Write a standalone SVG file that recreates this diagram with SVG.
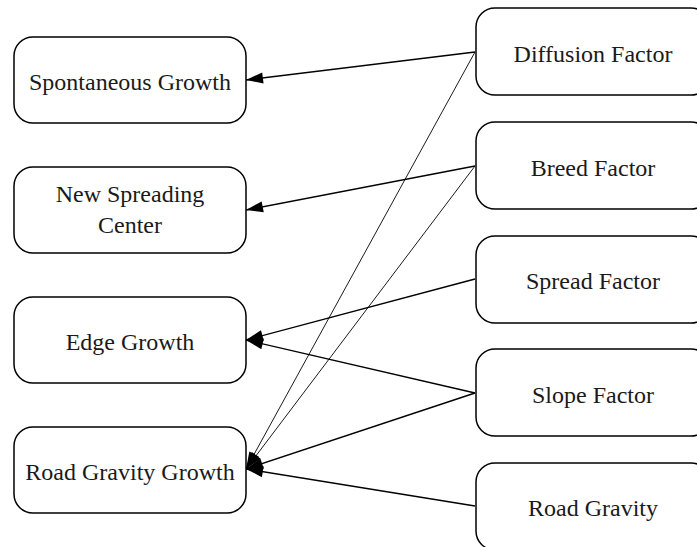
<svg xmlns="http://www.w3.org/2000/svg" width="697" height="547" viewBox="0 0 697 547">
<style>
.node rect{fill:#fff;stroke:#000;stroke-width:1.5}
.node text{font-family:"Liberation Serif","Times New Roman",serif;font-size:24px;fill:#1a1a1a;text-anchor:middle}
.edge{stroke:#000;stroke-width:1.4;fill:none}
.thin{stroke-width:0.9}
</style>
<defs>
<marker id="ah" markerUnits="userSpaceOnUse" markerWidth="18" markerHeight="12" refX="17" refY="5.5" orient="auto" overflow="visible">
<path d="M0,0 L17,5.5 L0,11 z" fill="#000"/>
</marker>
</defs>
<rect width="697" height="547" fill="#fff"/>
<g id="connectors">
<line class="edge" x1="475" y1="52" x2="246" y2="80" marker-end="url(#ah)"/>
<line class="edge thin" x1="475" y1="52" x2="246" y2="469" marker-end="url(#ah)"/>
<line class="edge" x1="475" y1="166" x2="246" y2="210" marker-end="url(#ah)"/>
<line class="edge thin" x1="475" y1="166" x2="246" y2="469" marker-end="url(#ah)"/>
<line class="edge" x1="475" y1="279" x2="246" y2="340" marker-end="url(#ah)"/>
<line class="edge" x1="475" y1="393" x2="246" y2="340" marker-end="url(#ah)"/>
<line class="edge" x1="475" y1="393" x2="246" y2="469" marker-end="url(#ah)"/>
<line class="edge" x1="475" y1="506" x2="246" y2="469" marker-end="url(#ah)"/>
</g>
<g id="spontaneous" class="node"><rect x="14" y="37" width="232" height="86" rx="19"/><text x="130" y="90">Spontaneous Growth</text></g>
<g id="newspreading" class="node"><rect x="14" y="167" width="232" height="86" rx="19"/><text x="130" y="202">New Spreading</text><text x="130" y="233">Center</text></g>
<g id="edgegrowth" class="node"><rect x="14" y="297" width="232" height="86" rx="19"/><text x="130" y="350">Edge Growth</text></g>
<g id="roadgravitygrowth" class="node"><rect x="14" y="427" width="232" height="86" rx="19"/><text x="130" y="480">Road Gravity Growth</text></g>
<g id="diffusion" class="node"><rect x="476" y="8" width="234" height="87" rx="19"/><text x="593" y="62">Diffusion Factor</text></g>
<g id="breed" class="node"><rect x="476" y="122" width="234" height="87" rx="19"/><text x="593" y="176">Breed Factor</text></g>
<g id="spread" class="node"><rect x="476" y="236" width="234" height="87" rx="19"/><text x="593" y="289">Spread Factor</text></g>
<g id="slope" class="node"><rect x="476" y="349" width="234" height="87" rx="19"/><text x="593" y="403">Slope Factor</text></g>
<g id="roadgravity" class="node"><rect x="476" y="463" width="234" height="87" rx="19"/><text x="593" y="516">Road Gravity</text></g>
</svg>
